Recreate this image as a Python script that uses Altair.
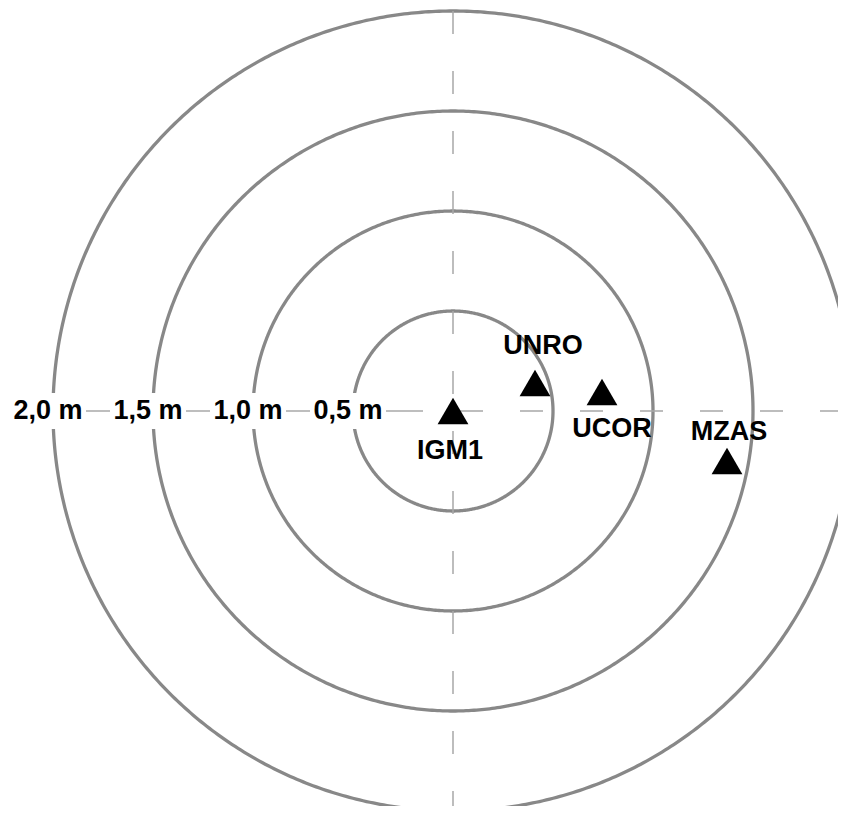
import numpy as np
import pandas as pd
import altair as alt

# ---- data ----
RING_RADII = [0.5, 1.0, 1.5, 2.0]
RING_LABELS = ["0,5 m", "1,0 m", "1,5 m", "2,0 m"]
STATIONS = ["IGM1", "UNRO", "UCOR", "MZAS"]
EAST = [0.0, 0.41, 0.745, 1.37]
NORTH = [0.0, 0.14, 0.095, -0.25]

# ---- layout / style ----
W, H = 830, 798
PX_PER_M = 200.0
CX, CY = 445.0, 403.0  # centre in plot px
X_DOM = [-CX / PX_PER_M, (W - CX) / PX_PER_M]
Y_DOM = [-(H - CY) / PX_PER_M, CY / PX_PER_M]
FONT = "Liberation Sans"
RING_COLOR = "#888888"
LINE_COLOR = "#a8a8a8"

xs = alt.Scale(domain=X_DOM, nice=False, zero=False)
ys = alt.Scale(domain=Y_DOM, nice=False, zero=False)

def X(f):
    return alt.X(f, type="quantitative", scale=xs, axis=None)

def Y(f):
    return alt.Y(f, type="quantitative", scale=ys, axis=None)

# ring geometry
theta = np.linspace(0, 2 * np.pi, 721)
rows = []
for r in RING_RADII:
    for i, t in enumerate(theta):
        rows.append({"r": r, "i": i, "x": r * np.cos(t), "y": r * np.sin(t)})
rings_df = pd.DataFrame(rows)

rings = alt.Chart(rings_df).mark_line(color=RING_COLOR, strokeWidth=3.3, clip=True).encode(
    x=X("x"), y=Y("y"), detail="r:N", order="i:Q"
)

rmax = max(RING_RADII)
vline = alt.Chart(pd.DataFrame({"x": [0.0], "y": [rmax], "y2": [-rmax]})).mark_rule(
    color=LINE_COLOR, strokeWidth=1.5, strokeDash=[23, 37], clip=True
).encode(x=X("x"), y=Y("y"), y2="y2")

hdash = alt.Chart(pd.DataFrame({"x": [0.0], "x2": [X_DOM[1]], "y": [0.0]})).mark_rule(
    color=LINE_COLOR, strokeWidth=1.5, strokeDash=[23, 37], strokeDashOffset=53, clip=True
).encode(x=X("x"), x2="x2", y=Y("y"))

hsolid = alt.Chart(pd.DataFrame({"x": [-rmax], "x2": [-0.15], "y": [0.0]})).mark_rule(
    color=LINE_COLOR, strokeWidth=1.5
).encode(x=X("x"), x2="x2", y=Y("y"))

lab_df = pd.DataFrame({"r": RING_RADII, "label": RING_LABELS})
lab_df["xpos"] = -lab_df["r"]
lab_df["bx1"] = lab_df["xpos"] - 0.025 - 0.19
lab_df["bx2"] = lab_df["xpos"] - 0.025 + 0.19
lab_df["by1"] = -0.09
lab_df["by2"] = 0.09
lab_df["y0"] = 0.0

boxes = alt.Chart(lab_df).mark_rect(fill="white").encode(
    x=X("bx1"), x2="bx2", y=Y("by1"), y2="by2"
)
ring_labels = alt.Chart(lab_df).mark_text(
    font=FONT, fontSize=27, fontWeight="bold", color="black",
    align="center", baseline="alphabetic", dx=-5, dy=8
).encode(x=X("xpos"), y=Y("y0"), text="label:N")

st_df = pd.DataFrame({"name": STATIONS, "e": EAST, "n": NORTH})

tri = alt.Chart(st_df).mark_point(
    shape="triangle-up", size=950, filled=True, color="black", opacity=1
).encode(x=X("e"), y=Y("n"))

LABEL_OFFSETS = {"IGM1": (-3, 48), "UNRO": (8, -29), "UCOR": (10, 45), "MZAS": (2, -21)}
st_labels = []
for name in STATIONS:
    dx, dy = LABEL_OFFSETS[name]
    st_labels.append(
        alt.Chart(st_df).transform_filter(alt.datum.name == name).mark_text(
            font=FONT, fontSize=27, fontWeight="bold", color="black",
            align="center", baseline="alphabetic", dx=dx, dy=dy
        ).encode(x=X("e"), y=Y("n"), text="name:N")
    )

chart = alt.layer(rings, vline, hdash, hsolid, boxes, ring_labels, tri, *st_labels).properties(
    width=W, height=H, padding=0, autosize=alt.AutoSizeParams(type="none")
).configure(background="white").configure_view(stroke=None)

chart.save("out.html", embed_options={"renderer": "svg", "actions": False})
